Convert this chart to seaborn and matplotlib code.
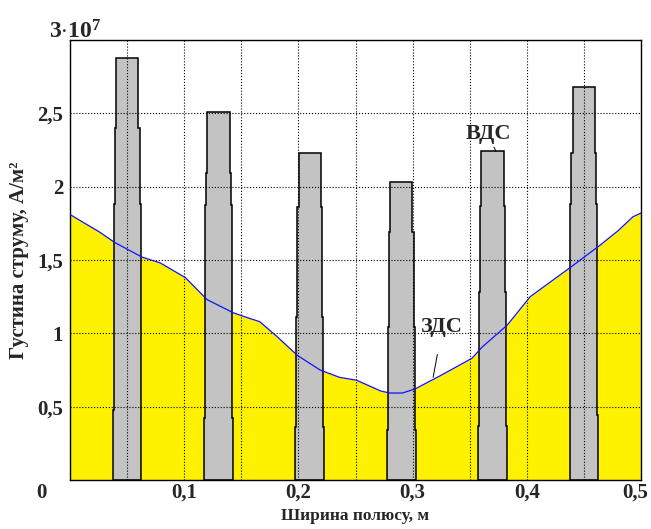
import numpy as np
import matplotlib
matplotlib.use("Agg")
import matplotlib.pyplot as plt
import matplotlib.transforms as mtransforms
import seaborn as sns

# ЗДС — розподіл густини струму вздовж полюсу (одиниці 1e7 А/м2)
zds_x = [0.0, 0.026, 0.039, 0.063, 0.079, 0.101, 0.120, 0.143, 0.158, 0.166,
         0.181, 0.199, 0.219, 0.236, 0.251, 0.272, 0.280, 0.291, 0.302, 0.324,
         0.352, 0.361, 0.383, 0.403, 0.440, 0.464, 0.480, 0.493, 0.500]
zds_y = [1.81, 1.69, 1.62, 1.52, 1.48, 1.38, 1.23, 1.14, 1.10, 1.08,
         0.98, 0.85, 0.75, 0.70, 0.68, 0.607, 0.593, 0.593, 0.62, 0.71,
         0.83, 0.907, 1.057, 1.25, 1.46, 1.60, 1.70, 1.795, 1.82]

# ВДС — ступінчасті провідники
tooth_centers = [0.05, 0.13, 0.21, 0.29, 0.37, 0.45]
tooth_tops = [2.88, 2.51, 2.23, 2.03, 2.24, 2.68]
tooth_steps = [[0.48, 1.88, 2.40],
               [0.42, 1.875, 2.09],
               [0.36, 1.11, 1.86],
               [0.34, 1.04, 1.69],
               [0.37, 1.28, 1.87],
               [0.44, 1.88, 2.23]]
# напівширини від нижнього сегмента до верхнього, м
tooth_half_widths = [0.0126, 0.0118, 0.0109, 0.0098]

scale = 1e7
x_ticks = [0.1, 0.2, 0.3, 0.4, 0.5]
x_ticklabels = ["0,1", "0,2", "0,3", "0,4", "0,5"]
y_ticks = [0, 0.5, 1, 1.5, 2, 2.5, 3]
y_ticklabels = ["", "0,5", "1", "1,5", "2", "2,5", ""]

sns.set_style("white")
plt.rcParams["font.family"] = ["Liberation Serif", "DejaVu Serif"]
plt.rcParams["font.weight"] = "bold"
plt.rcParams["mathtext.fontset"] = "custom"
plt.rcParams["mathtext.rm"] = "Liberation Serif:bold"
plt.rcParams["mathtext.it"] = "Liberation Serif:bold"
plt.rcParams["mathtext.bf"] = "Liberation Serif:bold"

fig = plt.figure(figsize=(6.51, 5.29), dpi=100)
ax = fig.add_axes([70 / 651, 49 / 529, 571 / 651, 440 / 529])

zx = np.array(zds_x)
zy = np.array(zds_y) * scale

# жовта заливка під кривою ЗДС
ax.fill_between(zx, 0, zy, color="#FFF200", linewidth=0, zorder=1)

# провідники ВДС
for c, top, steps in zip(tooth_centers, tooth_tops, tooth_steps):
    levels = [0] + steps + [top]
    left_x, left_y = [], []
    for i, hw in enumerate(tooth_half_widths):
        left_x += [c - hw, c - hw]
        left_y += [levels[i], levels[i + 1]]
    right_x = [2 * c - v for v in left_x[::-1]]
    right_y = left_y[::-1]
    px = left_x + right_x
    py = np.array(left_y + right_y) * scale
    ax.fill(px, py, facecolor="#C3C3C3", edgecolor="black", linewidth=1.1, zorder=1.5)

sns.lineplot(x=zx, y=zy, color="#1010FF", linewidth=0.9, ax=ax, zorder=3)

ax.set_xlim(0, 0.5)
ax.set_ylim(0, 3 * scale)
ax.set_xticks(np.arange(0, 0.501, 0.05), minor=False)
ax.set_xticklabels([""] * 11)
ax.set_yticks(np.array(y_ticks) * scale)
ax.set_yticklabels(y_ticklabels, fontsize=15, fontweight="bold")
for xv, lab in zip(x_ticks, x_ticklabels):
    tr = ax.get_xaxis_transform()
    if xv == 0.5:
        tr = tr + mtransforms.ScaledTranslation(-6 / 100, 0, fig.dpi_scale_trans)
    ax.text(xv, -0.006, lab, transform=tr,
            ha="center", va="top", fontsize=15, fontweight="bold")
ax.text(-0.05, -0.006, "0", transform=ax.transAxes, ha="center", va="top",
        fontsize=15, fontweight="bold")
ax.text(0.008, 0.993, r"3$\cdot$10$^{7}$", transform=ax.transAxes,
        ha="center", va="bottom", fontsize=17, fontweight="bold")

ax.grid(True, linestyle=":", color="black", linewidth=0.8)
ax.set_axisbelow(False)
ax.tick_params(axis="both", direction="in", length=3, width=0.8, pad=5)
for s in ax.spines.values():
    s.set_color("black")
    s.set_linewidth(1.0)

ax.set_xlabel("Ширина полюсу, м", fontsize=12.5, fontweight="bold", labelpad=15)
ax.set_ylabel("Густина струму, А/м²", fontsize=15, fontweight="bold", labelpad=6)

ax.annotate("ВДС", xy=(0.373, 2.24 * scale), xytext=(0.366, 2.36 * scale),
            ha="center", va="center", fontsize=16, fontweight="bold",
            arrowprops=dict(arrowstyle="-", color="black", lw=0.7, shrinkA=7, shrinkB=0))
ax.annotate("ЗДС", xy=(0.318, 0.70 * scale), xytext=(0.326, 1.04 * scale),
            ha="center", va="center", fontsize=16, fontweight="bold",
            arrowprops=dict(arrowstyle="-", color="black", lw=0.7, shrinkA=10, shrinkB=0))

plt.savefig("out.png", dpi=100)
plt.close()
